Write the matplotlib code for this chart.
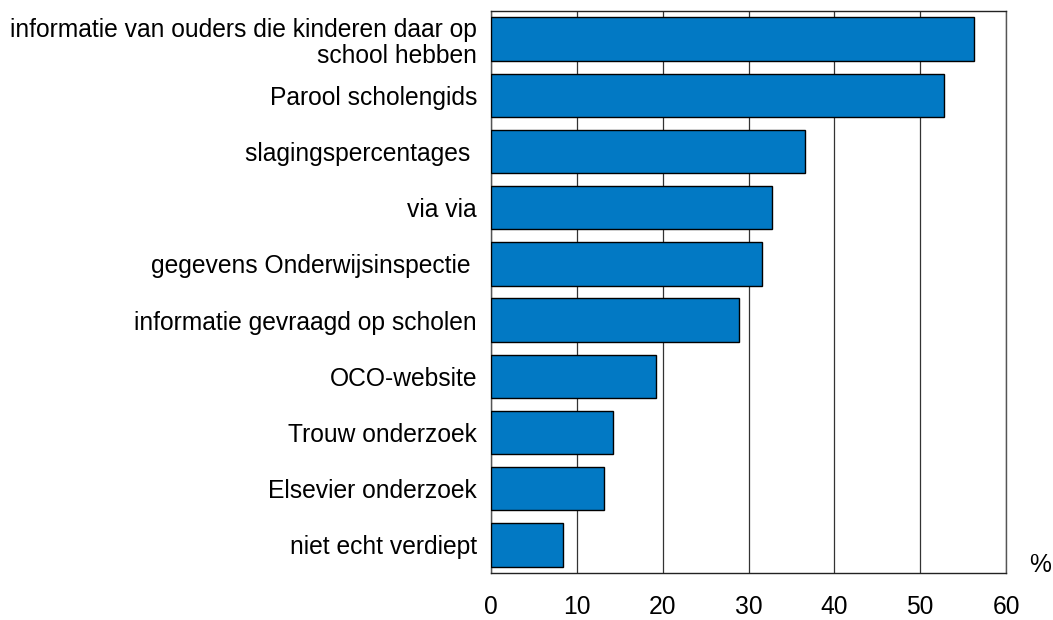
import matplotlib
matplotlib.use("Agg")
import matplotlib.pyplot as plt

categories = [
    "informatie van ouders die kinderen daar op\nschool hebben",
    "Parool scholengids",
    "slagingspercentages ",
    "via via",
    "gegevens Onderwijsinspectie ",
    "informatie gevraagd op scholen",
    "OCO-website",
    "Trouw onderzoek",
    "Elsevier onderzoek",
    "niet echt verdiept",
]
values = [56.3, 52.8, 36.6, 32.7, 31.6, 28.9, 19.2, 14.2, 13.2, 8.4]
xticks = [0, 10, 20, 30, 40, 50, 60]

plt.rcParams['font.family'] = ['Liberation Sans', 'DejaVu Sans']
FS = 17.7

fig = plt.figure(figsize=(10.53, 6.2), dpi=100)
ax = fig.add_axes([491/1053, 1-573/620, (1006-491)/1053, (573-11)/620])

y = list(range(len(categories)))
ax.barh(y, values, height=0.77, color="#0279C4", edgecolor="black", linewidth=1.0, zorder=3)
ax.set_ylim(len(categories) - 0.5, -0.5)
ax.set_xlim(0, 60)
ax.set_xticks(xticks)
ax.set_xticklabels([str(t) for t in xticks])
ax.set_yticks(y)
ax.set_yticklabels(categories, fontsize=FS, linespacing=1.15)
ax.tick_params(axis='x', length=0, pad=16, labelsize=FS)
ax.tick_params(axis='y', length=0, pad=10)
ax.xaxis.grid(True, color="#333333", linewidth=0.9, zorder=0)
ax.set_axisbelow(True)
for s in ax.spines.values():
    s.set_color("#222222")
    s.set_linewidth(1.0)
ax.spines['left'].set_color("#555555")
ax.spines['right'].set_color("#555555")
fig.text(1040/1053, 1-565/620, "%", fontsize=FS, ha='center', va='center')

fig.savefig("out.png", dpi=100)
